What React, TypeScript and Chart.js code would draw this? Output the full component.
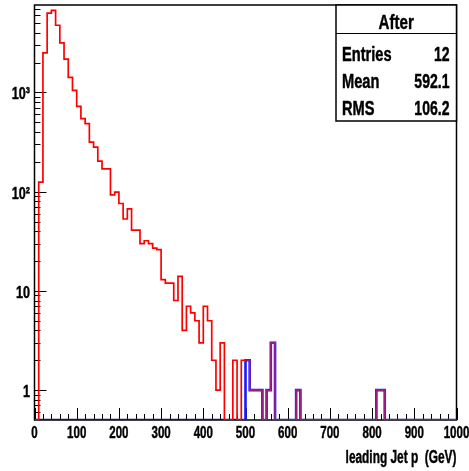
import React, { useEffect, useRef } from 'react';
import { Chart, registerables } from 'chart.js';

Chart.register(...registerables);

// ---- data (10 GeV bins from 0 to 1000) ----
const binWidth = 10;
const xMin = 0;
const xMax = 1000;
const yMin = 0.5;
const yMax = 7600;

const beforeCounts = [
  0, 125, 2500, 6300, 6700, 4750, 3150, 2160, 1420, 1050,
  724, 544, 485, 316, 281, 203, 170, 170, 93, 99,
  76, 53, 67, 41, 41, 30, 32, 30, 27, 26,
  13, 12, 12, 8, 14, 4, 7, 6, 5, 3,
  7, 5, 2, 1, 3, 0, 0, 2, 0, 2,
  2, 1, 1, 1, 0, 1, 3, 0, 0, 0,
  0, 0, 1, 0, 0, 0, 0, 0, 0, 0,
  0, 0, 0, 0, 0, 0, 0, 0, 0, 0,
  0, 1, 1, 0, 0, 0, 0, 0, 0, 0,
  0, 0, 0, 0, 0, 0, 0, 0, 0, 0,
];

const afterCounts = [
  0, 0, 0, 0, 0, 0, 0, 0, 0, 0,
  0, 0, 0, 0, 0, 0, 0, 0, 0, 0,
  0, 0, 0, 0, 0, 0, 0, 0, 0, 0,
  0, 0, 0, 0, 0, 0, 0, 0, 0, 0,
  0, 0, 0, 0, 0, 0, 0, 0, 0, 0,
  2, 1, 1, 1, 0, 1, 3, 0, 0, 0,
  0, 0, 1, 0, 0, 0, 0, 0, 0, 0,
  0, 0, 0, 0, 0, 0, 0, 0, 0, 0,
  0, 1, 1, 0, 0, 0, 0, 0, 0, 0,
  0, 0, 0, 0, 0, 0, 0, 0, 0, 0,
];

const xTickValues = [0, 100, 200, 300, 400, 500, 600, 700, 800, 900, 1000];
const yTickValues = [1, 10, 100, 1000];
const yTickLabels = ['1', '10', '10\u00B2', '10\u00B3'];

const xTitle = 'leading Jet p  (GeV)';
const statsTitle = 'After';
const statsLabels = ['Entries', 'Mean', 'RMS'];
const statsValues = ['12', '592.1', '106.2'];

// ---- helpers ----
const FONT = "'Liberation Sans', Arial, sans-serif";
const afterStart = afterCounts.findIndex((c) => c > 0);

function histPoints(counts: number[]) {
  const pts = counts.map((c, i) => ({ x: xMin + i * binWidth, y: Math.max(c, yMin) }));
  pts.push({ x: xMin + counts.length * binWidth, y: Math.max(counts[counts.length - 1], yMin) });
  return pts;
}

function condText(ctx: CanvasRenderingContext2D, text: string, x: number, y: number, align: CanvasTextAlign, sx: number) {
  ctx.save();
  ctx.translate(x, y);
  ctx.scale(sx, 1);
  ctx.textAlign = align;
  ctx.textBaseline = 'alphabetic';
  ctx.fillStyle = '#000';
  ctx.strokeStyle = '#000';
  ctx.lineWidth = 0.45;
  ctx.lineJoin = 'round';
  ctx.fillText(text, 0, 0);
  ctx.strokeText(text, 0, 0);
  ctx.restore();
}

const framePlugin = {
  id: 'frameTicks',
  beforeDatasetsDraw(chart: any) {
    const { ctx, chartArea, scales } = chart;
    const { left, right, top, bottom } = chartArea;
    const xs = scales.x;
    const ys = scales.y;
    ctx.save();
    ctx.strokeStyle = '#000';
    ctx.lineWidth = 1;
    ctx.beginPath();
    for (let v = xMin; v <= xMax; v += 20) {
      const px = Math.round(xs.getPixelForValue(v)) + 0.5;
      const len = v % 100 === 0 ? 12 : 6;
      ctx.moveTo(px, bottom);
      ctx.lineTo(px, bottom - len);
    }
    for (let k = -1; k <= 3; k++) {
      for (let m = 1; m <= 9; m++) {
        const v = m * Math.pow(10, k);
        if (v <= yMin || v >= yMax) continue;
        const py = Math.round(ys.getPixelForValue(v)) + 0.5;
        const len = m === 1 ? 12 : 6;
        ctx.moveTo(left, py);
        ctx.lineTo(left + len, py);
      }
    }
    ctx.stroke();
    ctx.lineWidth = 1.5;
    ctx.strokeRect(left, top, right - left, bottom - top);

    // tick labels (condensed, from the scales' own ticks)
    ctx.font = `bold 17px ${FONT}`;
    xs.ticks.forEach((t: any, i: number) => {
      const label = t.label != null ? String(t.label) : String(xTickValues[i]);
      condText(ctx, label, xs.getPixelForValue(t.value), bottom + 18, 'center', 0.68);
    });
    ys.ticks.forEach((t: any, i: number) => {
      const label = t.label != null ? String(t.label) : yTickLabels[i];
      condText(ctx, label, left - 4.5, ys.getPixelForValue(t.value) + 7, 'right', 0.74);
    });
    // axis title
    ctx.font = `bold 18px ${FONT}`;
    condText(ctx, xTitle, right, 463, 'right', 0.66);
    ctx.restore();
  },
  afterDraw(chart: any) {
    const { ctx, chartArea } = chart;
    const bx = 336;
    const by = chartArea.top;
    const bw = chartArea.right - bx;
    const bh = 116;
    ctx.save();
    ctx.fillStyle = '#fff';
    ctx.fillRect(bx, by, bw, bh);
    ctx.strokeStyle = '#000';
    ctx.lineWidth = 1.5;
    ctx.strokeRect(bx, by, bw, bh);
    ctx.lineWidth = 1;
    ctx.beginPath();
    ctx.moveTo(bx, by + 28.5);
    ctx.lineTo(bx + bw, by + 28.5);
    ctx.stroke();
    ctx.font = `bold 21px ${FONT}`;
    condText(ctx, statsTitle, bx + bw / 2, by + 23.5, 'center', 0.72);
    ctx.font = `bold 19.5px ${FONT}`;
    const baselines = [61, 87.5, 114.5];
    statsLabels.forEach((lab, i) => {
      condText(ctx, lab, bx + 6, baselines[i], 'left', 0.75);
      condText(ctx, statsValues[i], bx + bw - 7, baselines[i], 'right', 0.72);
    });
    ctx.restore();
  },
};

export default function App() {
  const canvasRef = useRef<HTMLCanvasElement | null>(null);

  useEffect(() => {
    const canvas = canvasRef.current;
    if (!canvas) return;
    const chart = new Chart(canvas, {
      type: 'line',
      data: {
        datasets: [
          {
            label: 'Before',
            data: histPoints(beforeCounts),
            borderColor: '#ff0000',
            borderWidth: 1.7,
            stepped: true,
            pointRadius: 0,
            fill: false,
            segment: {
              borderColor: (c: any) => {
                const i = c.p0DataIndex;
                const overlap = i >= afterStart && i < afterCounts.length && beforeCounts[i] === afterCounts[i];
                return overlap ? '#9a1f80' : '#ff0000';
              },
            },
          },
          {
            label: 'After',
            data: histPoints(afterCounts),
            borderColor: '#1a1aff',
            borderWidth: 2.6,
            stepped: true,
            pointRadius: 0,
            fill: false,
            segment: {
              borderColor: (c: any) => {
                const i = c.p0DataIndex;
                return i < afterCounts.length && afterCounts[i] === 0 && afterCounts[i + 1] === 0 ? '#101080' : '#1a1aff';
              },
            },
          },
        ],
      },
      options: {
        animation: false,
        responsive: false,
        maintainAspectRatio: false,
        parsing: false,
        normalized: true,
        layout: { padding: { left: 0, right: 12.5, top: 5, bottom: 0 } },
        plugins: { legend: { display: false }, tooltip: { enabled: false } },
        elements: { point: { radius: 0 }, line: { tension: 0 } },
        scales: {
          x: {
            type: 'linear',
            min: xMin,
            max: xMax,
            grid: { display: false, drawTicks: false },
            border: { display: false },
            afterBuildTicks: (s: any) => {
              s.ticks = xTickValues.map((v) => ({ value: v }));
            },
            afterFit: (s: any) => {
              s.height = 51;
            },
            ticks: {
              display: false,
              autoSkip: false,
              callback: (v: any) => String(v),
            },
          },
          y: {
            type: 'logarithmic',
            min: yMin,
            max: yMax,
            grid: { display: false, drawTicks: false },
            border: { display: false },
            afterBuildTicks: (s: any) => {
              s.ticks = yTickValues.map((v) => ({ value: v }));
            },
            afterFit: (s: any) => {
              s.width = 34.5;
            },
            ticks: {
              display: false,
              autoSkip: false,
              callback: (_v: any, i: number) => yTickLabels[i],
            },
          },
        },
      },
      plugins: [framePlugin],
    } as any);
    return () => chart.destroy();
  }, []);

  return (
    <div style={{ position: 'fixed', left: 0, top: 0, width: 469, height: 471, background: '#fff' }}>
      <canvas ref={canvasRef} width={469} height={471} style={{ display: 'block', width: 469, height: 471 }} />
    </div>
  );
}
